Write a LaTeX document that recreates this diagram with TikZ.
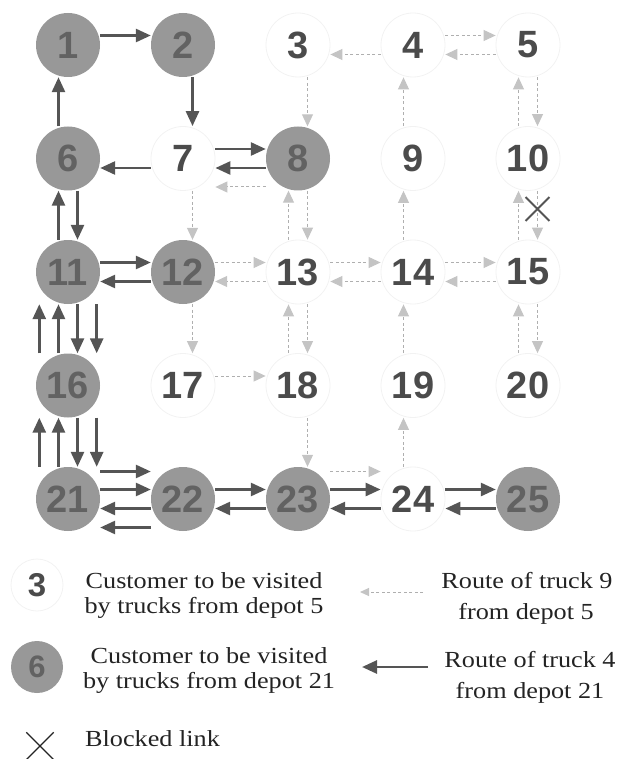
\documentclass[tikz,border=0pt]{standalone}
\usepackage{fontspec}
\setmainfont{Liberation Serif}
\newfontfamily\digitfont{Liberation Sans}
\newfontfamily\legendfont[FakeStretch=1.14]{Liberation Serif}
\usetikzlibrary{arrows.meta,shapes.misc}

\definecolor{nodefill}{RGB}{152,152,152}
\definecolor{nodetext}{RGB}{98,98,98}
\definecolor{plaintext}{RGB}{75,75,75}
\definecolor{ringcol}{RGB}{242,242,242}
\definecolor{darkroute}{RGB}{85,85,85}
\definecolor{lightroute}{RGB}{175,175,175}
\definecolor{lighthead}{RGB}{196,196,196}
\definecolor{legendtext}{RGB}{35,35,35}

\begin{document}
\begin{tikzpicture}[x=1pt,y=-1pt,
  cust/.style={circle, minimum size=64pt, inner sep=0pt,
    font=\digitfont\bfseries\fontsize{38}{38}\selectfont},
  whiten/.style={cust, draw=ringcol, line width=0.8pt, text=plaintext},
  grayn/.style={cust, fill=nodefill, text=nodetext},
  solidroute/.style={draw=darkroute, line width=2.7pt,
    -{Triangle[length=15pt,width=13pt]}},
  dashroute/.style={draw=lightroute, line width=1pt, dash pattern=on 3pt off 2.5pt,
    -{Triangle[length=12pt,width=11pt,color=lighthead]}},
  laneN/.style={transform canvas={yshift=9.5pt}},
  laneS/.style={transform canvas={yshift=-9.5pt}},
  laneE/.style={transform canvas={xshift=9.5pt}},
  laneW/.style={transform canvas={xshift=-9.5pt}},
  laneNN/.style={transform canvas={yshift=27.5pt}},
  laneSS/.style={transform canvas={yshift=-28.5pt}},
  laneEE/.style={transform canvas={xshift=28.7pt}},
  laneWW/.style={transform canvas={xshift=-28.7pt}},
  legtext/.style={font=\legendfont\fontsize{23}{25}\selectfont, text=legendtext,
    inner sep=0pt, anchor=base},
  blocked/.style={cross out, draw=darkroute, inner sep=0pt},
]
\useasboundingbox (0,0) rectangle (616,759);

% ---- customers ----
\node[grayn]  (n1)  at (68,45)    {1};
\node[grayn]  (n2)  at (183,45)   {2};
\node[whiten] (n3)  at (298,45)   {3};
\node[whiten] (n4)  at (413,45)   {4};
\node[whiten] (n5)  at (528,45)   {5};
\node[grayn]  (n6)  at (68,158.5)  {6};
\node[whiten] (n7)  at (183,158.5) {7};
\node[grayn]  (n8)  at (298,158.5) {8};
\node[whiten] (n9)  at (413,158.5) {9};
\node[whiten] (n10) at (528,158.5) {10};
\node[grayn]  (n11) at (68,272)   {11};
\node[grayn]  (n12) at (183,272)  {12};
\node[whiten] (n13) at (298,272)  {13};
\node[whiten] (n14) at (413,272)  {14};
\node[whiten] (n15) at (528,272)  {15};
\node[grayn]  (n16) at (68,385.5)  {16};
\node[whiten] (n17) at (183,385.5) {17};
\node[whiten] (n18) at (298,385.5) {18};
\node[whiten] (n19) at (413,385.5) {19};
\node[whiten] (n20) at (528,385.5) {20};
\node[grayn]  (n21) at (68,499)   {21};
\node[grayn]  (n22) at (183,499)  {22};
\node[grayn]  (n23) at (298,499)  {23};
\node[whiten] (n24) at (413,499)  {24};
\node[grayn]  (n25) at (528,499)  {25};

% ---- route of truck 9 (depot 5) ----
\draw[dashroute, laneS]  (n4) -- (n3);
\draw[dashroute, laneN]  (n4) -- (n5);
\draw[dashroute, laneS]  (n5) -- (n4);
\draw[dashroute, laneE]  (n3) -- (n8);
\draw[dashroute, laneW]  (n9) -- (n4);
\draw[dashroute, laneE]  (n5) -- (n10);
\draw[dashroute, laneW]  (n10) -- (n5);
\draw[dashroute, laneSS] (n8) -- (n7);
\draw[dashroute, laneE]  (n7) -- (n12);
\draw[dashroute, laneW]  (n13) -- (n8);
\draw[dashroute, laneE]  (n8) -- (n13);
\draw[dashroute, laneW]  (n14) -- (n9);
\draw[dashroute, laneW]  (n15) -- (n10);
\draw[dashroute, laneE]  (n10) -- (n15);
\draw[dashroute, laneN]  (n12) -- (n13);
\draw[dashroute, laneS]  (n13) -- (n12);
\draw[dashroute, laneN]  (n13) -- (n14);
\draw[dashroute, laneS]  (n14) -- (n13);
\draw[dashroute, laneN]  (n14) -- (n15);
\draw[dashroute, laneS]  (n15) -- (n14);
\draw[dashroute, laneE]  (n12) -- (n17);
\draw[dashroute, laneN]  (n17) -- (n18);
\draw[dashroute, laneW]  (n18) -- (n13);
\draw[dashroute, laneE]  (n13) -- (n18);
\draw[dashroute, laneW]  (n19) -- (n14);
\draw[dashroute, laneW]  (n20) -- (n15);
\draw[dashroute, laneE]  (n15) -- (n20);
\draw[dashroute, laneE]  (n18) -- (n23);
\draw[dashroute, laneNN] (n23) -- (n24);
\draw[dashroute, laneW]  (n24) -- (n19);

% ---- route of truck 4 (depot 21) ----
\draw[solidroute, laneN]  (n1) -- (n2);
\draw[solidroute, laneE]  (n2) -- (n7);
\draw[solidroute, laneS]  (n7) -- (n6);
\draw[solidroute, laneW]  (n6) -- (n1);
\draw[solidroute, laneN]  (n7) -- (n8);
\draw[solidroute, laneS]  (n8) -- (n7);
\draw[solidroute, laneE]  (n6) -- (n11);
\draw[solidroute, laneW]  (n11) -- (n6);
\draw[solidroute, laneN]  (n11) -- (n12);
\draw[solidroute, laneS]  (n12) -- (n11);
\draw[solidroute, laneWW] (n16) -- (n11);
\draw[solidroute, laneW]  (n16) -- (n11);
\draw[solidroute, laneE]  (n11) -- (n16);
\draw[solidroute, laneEE] (n11) -- (n16);
\draw[solidroute, laneWW] (n21) -- (n16);
\draw[solidroute, laneW]  (n21) -- (n16);
\draw[solidroute, laneE]  (n16) -- (n21);
\draw[solidroute, laneEE] (n16) -- (n21);
\draw[solidroute, laneNN] (n21) -- (n22);
\draw[solidroute, laneN]  (n21) -- (n22);
\draw[solidroute, laneS]  (n22) -- (n21);
\draw[solidroute, laneSS] (n22) -- (n21);
\draw[solidroute, laneN]  (n22) -- (n23);
\draw[solidroute, laneS]  (n23) -- (n22);
\draw[solidroute, laneN]  (n23) -- (n24);
\draw[solidroute, laneS]  (n24) -- (n23);
\draw[solidroute, laneN]  (n24) -- (n25);
\draw[solidroute, laneS]  (n25) -- (n24);

% ---- blocked link 10-15 ----
\node[blocked, line width=1.8pt, minimum size=22pt] (blk) at (537.5,209) {};

% ---- legend ----
\node[circle, draw=ringcol, line width=0.8pt, minimum size=52pt, inner sep=0pt,
  text=plaintext, font=\digitfont\bfseries\fontsize{33}{33}\selectfont] (leg3) at (37,585) {3};
\node[legtext] (lt1a) at (204,588) {Customer to be visited};
\node[legtext] (lt1b) at (204,613) {by trucks from depot 5};

\node[circle, fill=nodefill, minimum size=52pt, inner sep=0pt,
  text=nodetext, font=\digitfont\bfseries\fontsize{31}{31}\selectfont] (leg6) at (37,667) {6};
\node[legtext] (lt2a) at (209,663) {Customer to be visited};
\node[legtext] (lt2b) at (209,688) {by trucks from depot 21};

\node[blocked, line width=1.3pt, draw=legendtext, minimum size=26pt] (legx) at (40,746) {};
\node[legtext, anchor=base west] (lt3) at (85,746) {Blocked link};

\coordinate (la1) at (423,592);
\coordinate (la2) at (360,592);
\draw[dashroute, -{Triangle[length=9pt,width=8pt,color=lighthead]}] (la1) -- (la2);
\node[legtext] (lt4a) at (527,588) {Route of truck 9};
\node[legtext] (lt4b) at (526,619) {from depot 5};

\coordinate (lb1) at (428,667);
\coordinate (lb2) at (362,667);
\draw[solidroute, -{Triangle[length=15pt,width=13pt]}] (lb1) -- (lb2);
\node[legtext] (lt5a) at (530,667) {Route of truck 4};
\node[legtext] (lt5b) at (530,698) {from depot 21};
\end{tikzpicture}
\end{document}
